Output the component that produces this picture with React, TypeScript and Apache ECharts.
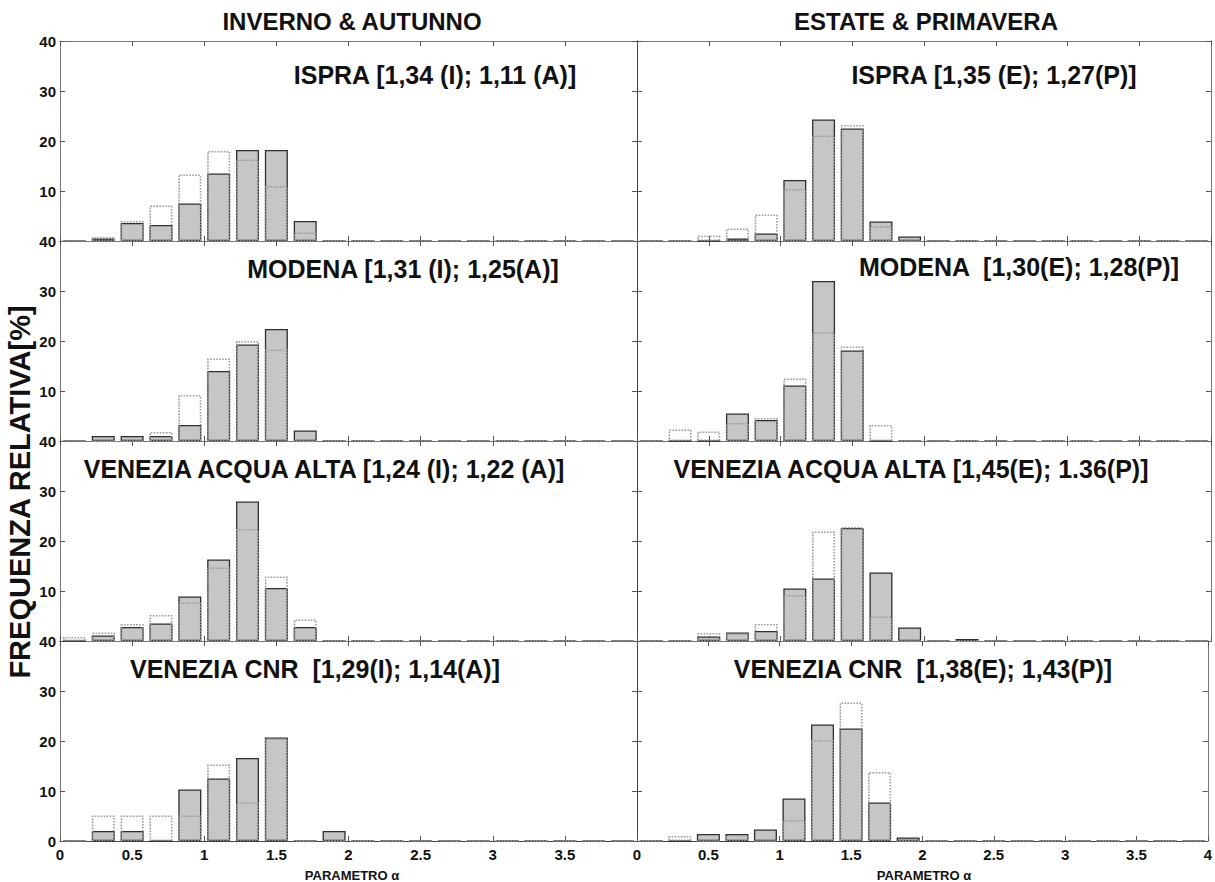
import React, { useEffect, useRef } from "react";
import * as echarts from "echarts";

// Bin centres of the histogram (parameter alpha)
const bins = [0.1, 0.3, 0.5, 0.7, 0.9, 1.1, 1.3, 1.5, 1.7, 1.9, 2.1, 2.3, 2.5, 2.7, 2.9, 3.1, 3.3, 3.5, 3.7, 3.9];

// Left column: Inverno (gray) & Autunno (dotted)
const ispraI = [0, 0.5, 3.6, 3.2, 7.5, 13.5, 18.2, 18.2, 4.0, 0, 0, 0, 0, 0, 0, 0, 0, 0, 0, 0];
const ispraA = [0, 0.8, 4.0, 7.1, 13.3, 18.0, 16.3, 11.0, 1.7, 0, 0, 0, 0, 0, 0, 0, 0, 0, 0, 0];
const modenaI = [0, 1.0, 1.0, 1.0, 3.2, 14.0, 19.3, 22.4, 2.1, 0, 0, 0, 0, 0, 0, 0, 0, 0, 0, 0];
const modenaA = [0, 0, 0, 1.8, 9.2, 16.5, 20.0, 18.3, 0, 0, 0, 0, 0, 0, 0, 0, 0, 0, 0, 0];
const vaaI = [0, 1.1, 2.8, 3.5, 8.9, 16.3, 27.9, 10.6, 2.8, 0, 0, 0, 0, 0, 0, 0, 0, 0, 0, 0];
const vaaA = [0.8, 1.7, 3.4, 5.2, 7.7, 14.7, 22.4, 12.9, 4.3, 0, 0, 0, 0, 0, 0, 0, 0, 0, 0, 0];
const vcnrI = [0, 2.0, 2.0, 0, 10.3, 12.5, 16.6, 20.7, 0, 2.0, 0, 0, 0, 0, 0, 0, 0, 0, 0, 0];
const vcnrA = [0, 5.1, 5.1, 5.1, 5.1, 15.3, 7.7, 20.5, 0, 0, 0, 0, 0, 0, 0, 0, 0, 0, 0, 0];

// Right column: Estate (gray) & Primavera (dotted)
const ispraE = [0, 0, 0, 0.5, 1.5, 12.2, 24.3, 22.5, 3.9, 0.9, 0, 0, 0, 0, 0, 0, 0, 0, 0, 0];
const ispraP = [0, 0, 1.1, 2.5, 5.3, 10.4, 21.1, 23.2, 3.0, 0, 0, 0, 0, 0, 0, 0, 0, 0, 0, 0];
const modenaE = [0, 0, 0, 5.5, 4.2, 11.1, 32.0, 18.1, 0, 0, 0, 0, 0, 0, 0, 0, 0, 0, 0, 0];
const modenaP = [0, 2.3, 1.9, 3.6, 4.6, 12.5, 21.7, 18.9, 3.2, 0, 0, 0, 0, 0, 0, 0, 0, 0, 0, 0];
const vaaE = [0, 0, 0.9, 1.7, 2.0, 10.5, 12.5, 22.6, 13.7, 2.7, 0, 0.4, 0, 0, 0, 0, 0, 0, 0, 0];
const vaaP = [0, 0, 1.6, 1.5, 3.4, 9.2, 21.9, 22.8, 4.9, 0, 0, 0, 0, 0, 0, 0, 0, 0, 0, 0];
const vcnrE = [0, 0, 1.4, 1.4, 2.3, 8.5, 23.3, 22.5, 7.7, 0.7, 0, 0, 0, 0, 0, 0, 0, 0, 0, 0];
const vcnrP = [0, 1.0, 0, 1.2, 0, 4.2, 20.2, 27.7, 13.8, 0, 0, 0, 0, 0, 0, 0, 0, 0, 0, 0];

const columnTitles = ["INVERNO & AUTUNNO", "ESTATE & PRIMAVERA"];
const panelLabels = [
  ["ISPRA [1,34 (I); 1,11 (A)]", "ISPRA [1,35 (E); 1,27(P)]"],
  ["MODENA [1,31 (I); 1,25(A)]", "MODENA  [1,30(E); 1,28(P)]"],
  ["VENEZIA ACQUA ALTA [1,24 (I); 1,22 (A)]", "VENEZIA ACQUA ALTA [1,45(E); 1.36(P)]"],
  ["VENEZIA CNR  [1,29(I); 1,14(A)]", "VENEZIA CNR  [1,38(E); 1,43(P)]"],
];
const grayData = [
  [ispraI, ispraE],
  [modenaI, modenaE],
  [vaaI, vaaE],
  [vcnrI, vcnrE],
];
const dottedData = [
  [ispraA, ispraP],
  [modenaA, modenaP],
  [vaaA, vaaP],
  [vcnrA, vcnrP],
];
const xAxisName = "PARAMETRO α";
const yAxisName = "FREQUENZA RELATIVA[%]";

const FONT = "'Liberation Sans', Arial, sans-serif";

export default function App() {
  const ref = useRef<HTMLDivElement>(null);

  useEffect(() => {
    if (!ref.current) return;
    const chart = echarts.init(ref.current, undefined, { renderer: "svg" });

    const colLeft = [60, 637];
    const colWidth = [577, 574];
    const rowTop = 41;
    const rowH = 200;

    const grids: any[] = [];
    const xAxes: any[] = [];
    const yAxes: any[] = [];
    const series: any[] = [];
    const graphics: any[] = [];

    const labelStyle = { fontFamily: FONT, fontWeight: "bold", fontSize: 15, color: "#111" };

    for (let r = 0; r < 4; r++) {
      for (let c = 0; c < 2; c++) {
        const p = r * 2 + c;
        grids.push({ left: colLeft[c], top: rowTop + r * rowH, width: colWidth[c], height: rowH, show: false });
        const tick = { show: true, inside: true, length: 5, lineStyle: { color: "#555", width: 1 } };
        // bottom x axis
        xAxes.push({
          type: "value", gridIndex: p, min: 0, max: 4, interval: 0.5, position: "bottom",
          axisLine: { show: true, onZero: false, lineStyle: { color: "#444", width: 1.2 } },
          axisTick: tick,
          axisLabel: { show: r === 3, margin: 6, showMaxLabel: c === 1, ...labelStyle },
          splitLine: { show: false },
        });
        // top x axis
        xAxes.push({
          type: "value", gridIndex: p, min: 0, max: 4, interval: 0.5, position: "top",
          axisLine: { show: true, onZero: false, lineStyle: { color: "#777", width: 1 } },
          axisTick: tick,
          axisLabel: { show: false },
          splitLine: { show: false },
        });
        // left y axis
        yAxes.push({
          type: "value", gridIndex: p, min: 0, max: 40, interval: 10, position: "left",
          axisLine: { show: true, onZero: false, lineStyle: { color: c === 1 ? "#444" : "#777", width: 1 } },
          axisTick: tick,
          axisLabel: { show: c === 0, margin: 4, showMinLabel: r === 3, ...labelStyle },
          splitLine: { show: false },
        });
        // right y axis
        yAxes.push({
          type: "value", gridIndex: p, min: 0, max: 40, interval: 10, position: "right",
          axisLine: { show: true, onZero: false, lineStyle: { color: c === 0 ? "#444" : "#777", width: 1 } },
          axisTick: tick,
          axisLabel: { show: false },
          splitLine: { show: false },
        });

        const g = grayData[r][c];
        const d = dottedData[r][c];
        series.push({
          type: "bar", xAxisIndex: p * 2, yAxisIndex: p * 2,
          data: bins.map((b, i) => [b, g[i]]),
          barWidth: 23, barGap: "-100%",
          itemStyle: { color: "#c6c6c6", borderColor: "#2e2e2e", borderWidth: 1.3 },
          silent: true,
        });
        series.push({
          type: "bar", xAxisIndex: p * 2, yAxisIndex: p * 2,
          data: bins.map((b, i) => [b, d[i]]),
          barWidth: 23, barGap: "-100%",
          itemStyle: { color: "rgba(0,0,0,0)", borderColor: "#9a9a9a", borderWidth: 1.6, borderType: [1.6, 1.4] },
          silent: true,
          z: 3,
        });
      }
    }

    const labelPos = [
      [[435, 75], [994, 75]],
      [[403, 269], [1019, 267]],
      [[324, 469], [911, 469]],
      [[315, 669], [923, 669]],
    ];
    for (let r = 0; r < 4; r++) {
      for (let c = 0; c < 2; c++) {
        graphics.push({
          type: "text", x: labelPos[r][c][0], y: labelPos[r][c][1], z: 10,
          style: {
            text: panelLabels[r][c], fill: "#111", fontFamily: FONT, fontWeight: "bold", fontSize: 25,
            textAlign: "center", textVerticalAlign: "middle",
          },
        });
      }
    }
    graphics.push({
      type: "text", x: 352, y: 21,
      style: { text: columnTitles[0], fill: "#111", fontFamily: FONT, fontWeight: "bold", fontSize: 24, textAlign: "center", textVerticalAlign: "middle" },
    });
    graphics.push({
      type: "text", x: 926, y: 21,
      style: { text: columnTitles[1], fill: "#111", fontFamily: FONT, fontWeight: "bold", fontSize: 24, textAlign: "center", textVerticalAlign: "middle" },
    });
    graphics.push({
      type: "text", x: 352, y: 875,
      style: { text: xAxisName, fill: "#111", fontFamily: FONT, fontWeight: "bold", fontSize: 13, textAlign: "center", textVerticalAlign: "middle" },
    });
    graphics.push({
      type: "text", x: 924, y: 875,
      style: { text: xAxisName, fill: "#111", fontFamily: FONT, fontWeight: "bold", fontSize: 13, textAlign: "center", textVerticalAlign: "middle" },
    });
    graphics.push({
      type: "text", x: 20, y: 492, rotation: Math.PI / 2,
      style: { text: yAxisName, fill: "#111", fontFamily: FONT, fontWeight: "bold", fontSize: 29, textAlign: "center", textVerticalAlign: "middle" },
    });

    chart.setOption({
      animation: false,
      backgroundColor: "#ffffff",
      grid: grids,
      xAxis: xAxes,
      yAxis: yAxes,
      series,
      graphic: graphics,
    });

    return () => chart.dispose();
  }, []);

  return <div ref={ref} style={{ position: "absolute", left: 0, top: 0, width: 1215, height: 882 }} />;
}
